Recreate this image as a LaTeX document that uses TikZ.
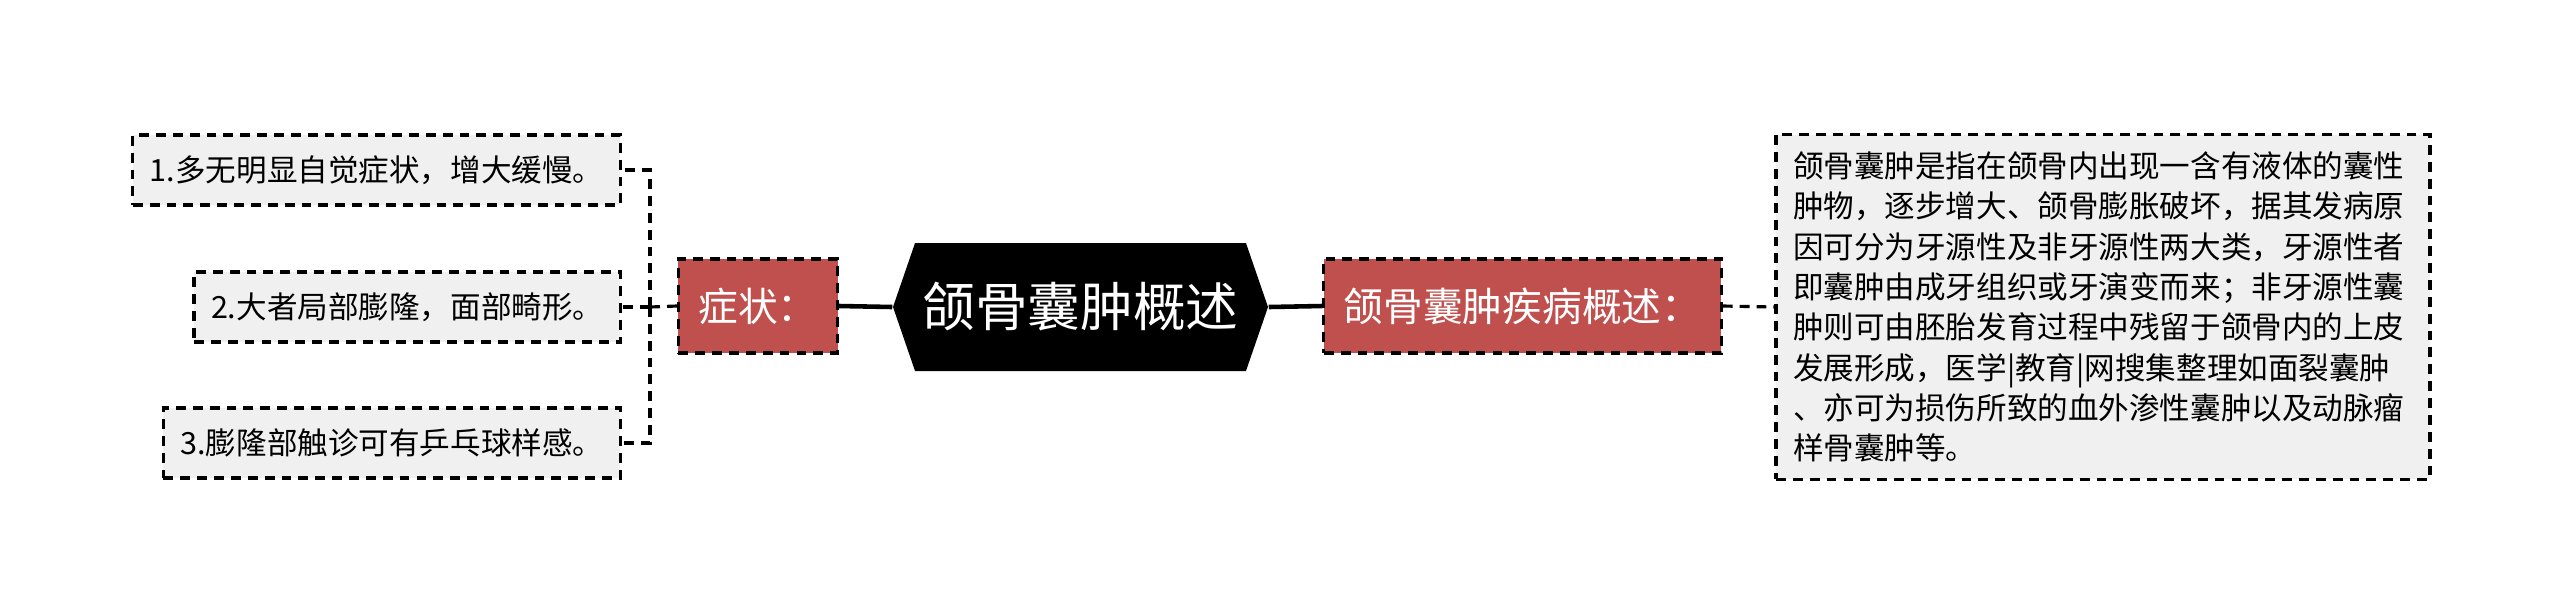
\documentclass[tikz,border=0pt]{standalone}
\usepackage{fontspec}
\newfontfamily\cjk{Noto Sans CJK SC}
\usetikzlibrary{shapes.symbols}

\definecolor{topicRed}{RGB}{192,80,77}
\definecolor{leafGrey}{RGB}{240,240,240}

\tikzset{
  leaf/.style={draw, line width=0.9pt, dash pattern=on 2.8pt off 2pt,
    fill=leafGrey, font=\cjk\fontsize{8.7}{11.47}\selectfont,
    inner xsep=0.17cm, inner ysep=0pt, minimum height=0.70cm},
  topic/.style={draw, line width=0.9pt, dash pattern=on 2.8pt off 2pt,
    fill=topicRed, text=white, font=\cjk\fontsize{11.3}{13}\selectfont,
    inner xsep=0.2cm, inner ysep=0pt, minimum height=0.94cm},
  hub/.style={shape=signal, signal to=west and east, signal pointer angle=142,
    fill=black, text=white, font=\cjk\fontsize{15}{18}\selectfont,
    inner sep=0pt, minimum width=3.75cm, minimum height=1.28cm},
  link/.style={line width=1.3pt},
  branch/.style={line width=0.9pt, dash pattern=on 2.8pt off 2pt}
}

\begin{document}
\begin{tikzpicture}
  \useasboundingbox (0,0) rectangle (25.6,-6.14);
  % Centre
  \node[hub] (hub) at (10.805,-3.07) {颌骨囊肿概述};
  % Left: symptoms
  \node[topic] (sym) at (7.58,-3.06) {症状：};
  \node[leaf, anchor=east] (sym1) at (6.22,-1.70) {1.多无明显自觉症状，增大缓慢。};
  \node[leaf, anchor=east] (sym2) at (6.22,-3.07) {2.大者局部膨隆，面部畸形。};
  \node[leaf, anchor=east] (sym3) at (6.22,-4.43) {3.膨隆部触诊可有乒乓球样感。};
  \coordinate (fork) at (6.50,-3.07);
  \draw[link] (hub.west) -- (sym.east);
  \draw[branch] (sym.west) -- (fork);
  \draw[branch] (fork) |- (sym1.east);
  \draw[branch] (fork) -- (sym2.east);
  \draw[branch] (fork) |- (sym3.east);
  % Right: overview
  \node[topic] (def) at (15.225,-3.06) {颌骨囊肿疾病概述：};
  \node[leaf, text width=6.2cm, align=left, inner ysep=0.17cm] (def1) at (21.03,-3.07)
    {颌骨囊肿是指在颌骨内出现一含有液体的囊性\\
     肿物，逐步增大、颌骨膨胀破坏，据其发病原\\
     因可分为牙源性及非牙源性两大类，牙源性者\\
     即囊肿由成牙组织或牙演变而来；非牙源性囊\\
     肿则可由胚胎发育过程中残留于颌骨内的上皮\\
     发展形成，医学|教育|网搜集整理如面裂囊肿\\
     、亦可为损伤所致的血外渗性囊肿以及动脉瘤\\
     样骨囊肿等。};
  \draw[link] (hub.east) -- (def.west);
  \draw[branch] (def.east) -- (def1.west);
\end{tikzpicture}
\end{document}
